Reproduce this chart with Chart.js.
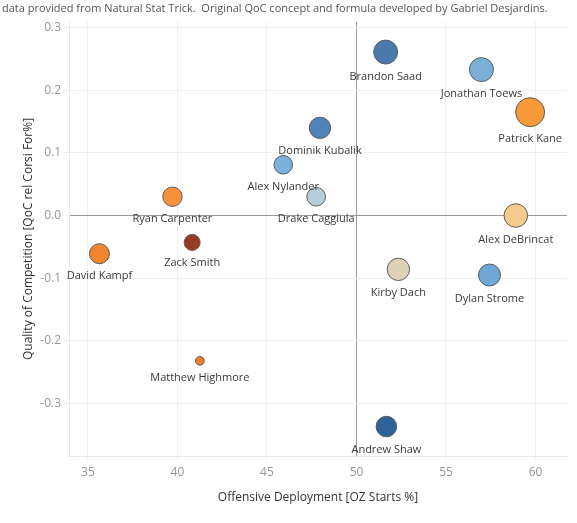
<!DOCTYPE html>
<html>
<head>
<meta charset="utf-8">
<title>QoC vs OZ Starts</title>
<script src="https://cdn.jsdelivr.net/npm/chart.js@4.4.1/dist/chart.umd.min.js"></script>
<style>
  html, body { margin: 0; padding: 0; background: #fff; overflow: hidden; }
  #wrap { position: relative; width: 577px; height: 523px; }
  #qocChart { display: block; }
  #note {
    position: absolute; left: 2px; top: 0;
    font: 11px 'Open Sans', sans-serif; color: #555; white-space: nowrap;
  }
</style>
</head>
<body>
<div id="wrap">
  <canvas id="qocChart" width="577" height="523"></canvas>
  <div id="note">data provided from Natural Stat Trick.&nbsp; Original QoC concept and formula developed by Gabriel Desjardins.</div>
</div>
<script>
// Players and their values
const players = ['Brandon Saad', 'Jonathan Toews', 'Patrick Kane', 'Dominik Kubalik', 'Alex Nylander',
  'Drake Caggiula', 'Ryan Carpenter', 'Alex DeBrincat', 'David Kampf', 'Zack Smith',
  'Kirby Dach', 'Dylan Strome', 'Matthew Highmore', 'Andrew Shaw'];
const ozStarts = [51.63, 56.98, 59.70, 47.96, 45.91, 47.75, 39.72, 58.90, 35.64, 40.82, 52.34, 57.43, 41.25, 51.67];
const qocRelCF = [0.261, 0.233, 0.165, 0.140, 0.081, 0.030, 0.030, 0.000, -0.061, -0.043, -0.086, -0.095, -0.232, -0.337];
// size measure
const sizeValue = [144, 144, 210, 114, 87, 87, 94, 139, 100, 64, 125, 121, 19, 106];
const playerColors = ['#4b7bad', '#7bafd6', '#f8993a', '#5283b7', '#78b1dc', '#b4ceda', '#f7923a',
  '#f6c98c', '#f0852f', '#993a24', '#ddd1b8', '#6fa7d4', '#ef7f2b', '#2f6296'];

const xTicks = [35, 40, 45, 50, 55, 60];
const yTicks = [-0.3, -0.2, -0.1, 0.0, 0.1, 0.2, 0.3];

const points = players.map((name, i) => ({
  x: ozStarts[i],
  y: qocRelCF[i],
  r: Math.sqrt(sizeValue[i])
}));

// names under each bubble
const bubbleLabels = {
  id: 'bubbleLabels',
  afterDatasetsDraw(chart) {
    const ctx = chart.ctx;
    const meta = chart.getDatasetMeta(0);
    ctx.save();
    ctx.font = "11px 'Open Sans', sans-serif";
    ctx.fillStyle = '#3a3a3a';
    ctx.textAlign = 'center';
    ctx.textBaseline = 'middle';
    meta.data.forEach((el, i) => {
      const r = el.options.radius;
      ctx.fillText(players[i], el.x, el.y + r + 12.5);
    });
    ctx.restore();
  }
};

const tickFont = { family: "'Open Sans', sans-serif", size: 12 };
const titleFont = { family: "'Open Sans', sans-serif", size: 12 };

new Chart(document.getElementById('qocChart'), {
  type: 'bubble',
  data: {
    datasets: [{
      data: points,
      backgroundColor: playerColors,
      borderColor: '#5c5c5c',
      borderWidth: 1
    }]
  },
  options: {
    responsive: false,
    animation: false,
    layout: { autoPadding: false, padding: { top: 22, right: 10, left: 0, bottom: 0 } },
    plugins: {
      legend: { display: false },
      tooltip: { enabled: false }
    },
    scales: {
      x: {
        type: 'linear',
        min: 33.94,
        max: 61.76,
        afterFit: s => { s.height = 67; s.paddingLeft = 0; s.paddingRight = 0; },
        afterBuildTicks: s => { s.ticks = xTicks.map(v => ({ value: v })); },
        grid: {
          color: c => (c.tick && c.tick.value === 50) ? '#9a9a9a' : '#efefef',
          tickColor: '#efefef',
          tickLength: 4
        },
        border: { color: '#e8e8e8' },
        ticks: { font: tickFont, color: '#969696', padding: 5, maxRotation: 0 },
        title: {
          display: true,
          text: 'Offensive Deployment [OZ Starts %]',
          font: titleFont,
          color: '#333',
          padding: { top: 0, bottom: 18 }
        }
      },
      y: {
        type: 'linear',
        min: -0.384,
        max: 0.309,
        afterFit: s => { s.width = 69; s.paddingTop = 0; s.paddingBottom = 0; },
        afterBuildTicks: s => { s.ticks = yTicks.map(v => ({ value: v })); },
        grid: {
          color: c => (c.tick && c.tick.value === 0) ? '#9a9a9a' : '#efefef',
          tickColor: '#efefef',
          tickLength: 6
        },
        border: { color: '#e8e8e8' },
        ticks: {
          font: tickFont,
          color: '#969696',
          padding: 2,
          callback: v => v.toFixed(1)
        },
        title: {
          display: true,
          text: 'Quality of Competition [QoC rel Corsi For%]',
          font: titleFont,
          color: '#333',
          padding: { top: 21, bottom: 0 }
        }
      }
    }
  },
  plugins: [bubbleLabels]
});
</script>
</body>
</html>
